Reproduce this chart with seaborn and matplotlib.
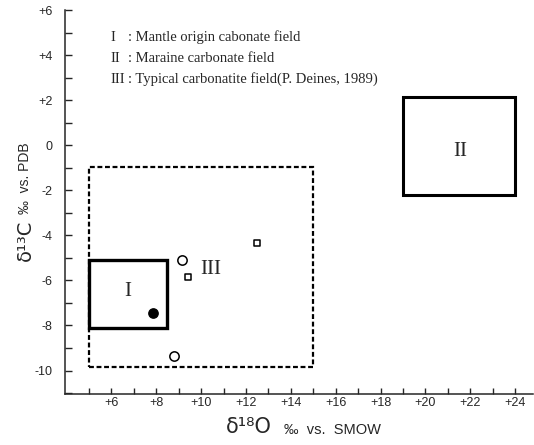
import matplotlib
matplotlib.use("Agg")
import matplotlib.pyplot as plt
import seaborn as sns
import pandas as pd
from matplotlib.patches import Rectangle

# ---------------- data ----------------
pt_x = [7.85, 9.15, 8.8, 9.4, 12.5]
pt_y = [-7.45, -5.1, -9.35, -5.85, -4.35]
pt_kind = ["filled circle", "open circle", "open circle", "open square", "open square"]

field_names = ["I", "II", "III"]
field_x0 = [5.0, 19.0, 5.0]
field_x1 = [8.5, 24.0, 15.0]
field_y0 = [-8.1, -2.2, -9.85]
field_y1 = [-5.1, 2.15, -0.95]
field_label_x = [6.75, 21.55, 10.45]
field_label_y = [-6.5, -0.3, -5.5]

legend_num = ["I", "II", "III"]
legend_txt = [": Mantle origin cabonate field",
              ": Maraine carbonate field",
              ": Typical carbonatite field(P. Deines, 1989)"]

x_ticks = [6, 8, 10, 12, 14, 16, 18, 20, 22, 24]
x_ticklabels = ["+6", "+8", "+10", "+12", "+14", "+16", "+18", "+20", "+22", "+24"]
y_ticks = [6, 4, 2, 0, -2, -4, -6, -8, -10]
y_ticklabels = ["+6", "+4", "+2", "0", "-2", "-4", "-6", "-8", "-10"]

# ---------------- figure ----------------
sns.set_style("ticks")
plt.rcParams['font.family'] = ['Liberation Sans', 'DejaVu Sans']

W, H = 534, 445
fig = plt.figure(figsize=(W / 100, H / 100), dpi=100)
ax = fig.add_axes([65 / W, 1 - 394 / H, (533 - 65) / W, (394 - 10) / H])
ax.set_xlim(3.93, 24.8)
ax.set_ylim(-11.04, 6.0)

df = pd.DataFrame({"x": pt_x, "y": pt_y, "kind": pt_kind})
sns.scatterplot(data=df[df.kind == "filled circle"], x="x", y="y", ax=ax,
                marker="o", s=45, color="black", edgecolor="black", linewidth=1, zorder=5)
sns.scatterplot(data=df[df.kind == "open circle"], x="x", y="y", ax=ax,
                marker="o", s=45, facecolor="white", edgecolor="black", linewidth=1.1, zorder=5)
sns.scatterplot(data=df[df.kind == "open square"], x="x", y="y", ax=ax,
                marker="s", s=24, facecolor="white", edgecolor="black", linewidth=1.1, zorder=5)

styles = {"I": dict(lw=2.4, ls="-"), "II": dict(lw=2.2, ls="-"), "III": dict(lw=1.6, ls=(0, (2.2, 1.2)))}
for n, x0, x1, y0, y1, lx, ly in zip(field_names, field_x0, field_x1, field_y0, field_y1,
                                     field_label_x, field_label_y):
    ax.add_patch(Rectangle((x0, y0), x1 - x0, y1 - y0, fill=False, edgecolor="black",
                           joinstyle="miter", **styles[n]))
    ax.text(lx, ly, n, ha="center", va="center", fontsize=15, family="Liberation Serif")

sns.despine(ax=ax)
ax.spines["left"].set_linewidth(1.1)
ax.spines["bottom"].set_linewidth(1.1)
ax.set_xticks(x_ticks)
ax.set_xticklabels(x_ticklabels)
ax.set_yticks(y_ticks)
ax.set_yticklabels(y_ticklabels)
ax.set_xticks(range(5, 25), minor=True)
ax.set_yticks(range(-11, 7), minor=True)
ax.tick_params(axis="x", which="both", direction="in", length=4, width=1, labelsize=9, pad=2)
ax.tick_params(axis="y", which="both", direction="in", length=5, width=1, labelsize=9, pad=9)
ax.set_xlabel("")
ax.set_ylabel("")

# legend text block
for i, (n, t) in enumerate(zip(legend_num, legend_txt)):
    yy = 1 - (41 + i * 21) / H
    fig.text(110 / W, yy, n, ha="left", va="baseline", fontsize=10.5, family="Liberation Serif")
    fig.text(128 / W, yy, t, ha="left", va="baseline", fontsize=10.5, family="Liberation Serif")

# axis labels
fig.text(249 / W, 1 - 427 / H, "δ¹⁸O", ha="center", va="center", fontsize=15, family="DejaVu Sans")
fig.text(284 / W, 1 - 430 / H, "‰  vs.  SMOW", ha="left", va="center", fontsize=10.5)
fig.text(25 / W, 1 - 240 / H, "δ¹³C", ha="center", va="center", fontsize=14, rotation=90,
         family="DejaVu Sans")
fig.text(25 / W, 1 - 178 / H, "‰  vs. PDB", ha="center", va="center", fontsize=10, rotation=90)

fig.savefig("out.png", dpi=100)
